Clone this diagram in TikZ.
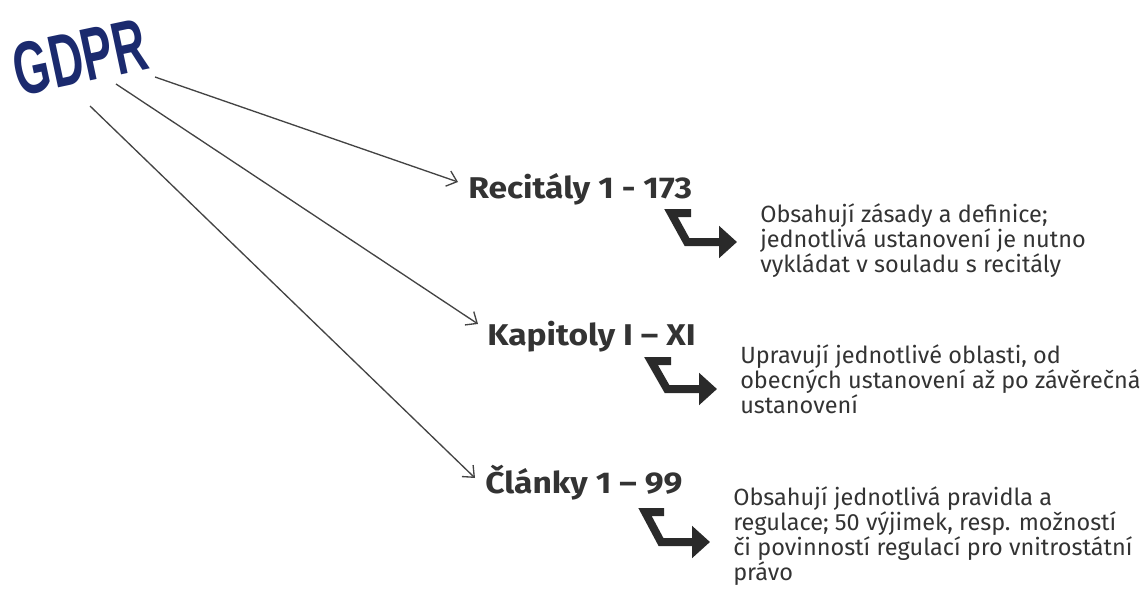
\documentclass[tikz,border=0pt]{standalone}
\usepackage{fontspec}
\setmainfont{Fira Sans}
\newfontfamily\headfont[FakeStretch=1.12]{Fira Sans}
\newfontfamily\logofont{Liberation Sans}
\usetikzlibrary{arrows.meta}
\definecolor{navy}{HTML}{1B2A6E}
\definecolor{txt}{HTML}{333333}
\definecolor{thick}{HTML}{2A2A2A}
\definecolor{thin}{HTML}{444444}
\tikzset{
  heading/.style={anchor=base west, inner sep=0pt, text=txt,
    font=\fontsize{22.5pt}{25pt}\selectfont\headfont\bfseries},
  desc/.style={anchor=base west, inner sep=0pt, text=txt, align=left,
    font=\fontsize{17.6pt}{18.75pt}\selectfont},
  thinarrow/.style={draw=thin, line width=1pt,
    -{Straight Barb[length=7pt,width=12pt,line width=1pt]}},
  bentarrow/.style={draw=thick, line width=6pt, line join=miter,
    -{Triangle[length=13.5pt,width=23.5pt]}},
}
\begin{document}
\begin{tikzpicture}[x=0.75pt,y=-0.75pt]
\useasboundingbox (0,0) rectangle (1140,592);
% logo
\node[inner sep=0pt, text=navy, rotate=12,
  font=\fontsize{56pt}{56pt}\selectfont\logofont\bfseries] (gdpr) at (80,57)
  {\scalebox{0.62}[1]{GDPR}};
% headings
\node[heading] (rec) at (468,198) {Recitály 1 - 173};
\node[heading] (kap) at (487,345) {Kapitoly I – XI};
\node[heading] (cla) at (485,493) {Články 1 – 99};
% descriptions (anchored at the baseline of the last line)
\node[desc] (d1) at (760,272) {Obsahují zásady a definice;\\jednotlivá ustanovení je nutno\\vykládat v souladu s recitály};
\node[desc] (d2) at (740,413) {Upravují jednotlivé oblasti, od\\obecných ustanovení až po závěrečná\\ustanovení};
\node[desc] (d3) at (733,580) {Obsahují jednotlivá pravidla a\\regulace; 50 výjimek, resp. možností\\či povinností regulací pro vnitrostátní\\právo};
% thin arrows
\coordinate (s1) at (155,77);
\coordinate (s2) at (116,84);
\coordinate (s3) at (90,106);
\coordinate (e1) at (458,182);
\coordinate (e2) at (478,324);
\coordinate (e3) at (475,478);
\draw[thinarrow] (s1) -- (e1);
\draw[thinarrow] (s2) -- (e2);
\draw[thinarrow] (s3) -- (e3);
% bent arrows
\coordinate (b1a) at (691,213);
\coordinate (b1b) at (671,213);
\coordinate (b1c) at (687,242);
\coordinate (b1d) at (737,242);
\draw[bentarrow] (b1a) -- (b1b) -- (b1c) -- (b1d);
\coordinate (b2a) at (671,361);
\coordinate (b2b) at (651,361);
\coordinate (b2c) at (667,389);
\coordinate (b2d) at (717,389);
\draw[bentarrow] (b2a) -- (b2b) -- (b2c) -- (b2d);
\coordinate (b3a) at (664,512);
\coordinate (b3b) at (645,512);
\coordinate (b3c) at (661,542);
\coordinate (b3d) at (710,542);
\draw[bentarrow] (b3a) -- (b3b) -- (b3c) -- (b3d);
\end{tikzpicture}
\end{document}
